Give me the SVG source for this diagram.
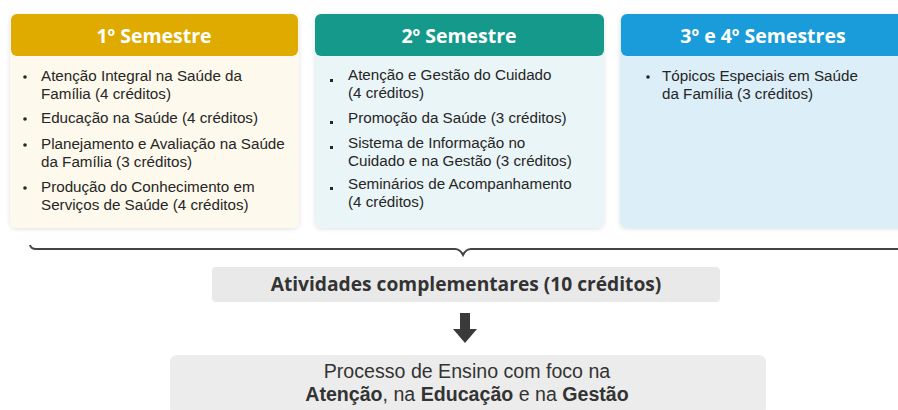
<svg xmlns="http://www.w3.org/2000/svg" width="898" height="410" viewBox="0 0 898 410">
<defs>
<filter id="sh" x="-5%" y="-5%" width="110%" height="115%">
<feDropShadow dx="0" dy="1" stdDeviation="2" flood-color="#000" flood-opacity="0.12"/>
</filter>
</defs>
<style>
.hd{font-family:"Open Sans","Noto Sans","Liberation Sans",sans-serif;font-weight:700;font-size:19.5px;fill:#fff;text-anchor:middle}
.it{font-family:"Liberation Sans","Arial",sans-serif;font-size:15.2px;fill:#262626}
.bl{fill:#262626}
.ac{font-family:"Open Sans","Noto Sans","Liberation Sans",sans-serif;font-weight:700;font-size:19.2px;fill:#333;text-anchor:middle}
.pr{font-family:"Liberation Sans","Arial",sans-serif;font-size:19.6px;fill:#333;text-anchor:middle}
.pr tspan.b{font-weight:700}
</style>
<rect width="898" height="410" fill="#fff"/>
<g id="sem1">
<rect x="10" y="14" width="289" height="214" rx="6" fill="#FDF9EC" filter="url(#sh)"/>
<rect x="11" y="14" width="287" height="42" rx="6" fill="#E0AB00"/>
<text class="hd" x="154" y="43">1º Semestre</text>
<circle class="bl" cx="25" cy="77" r="1.8"/>
<text class="it" x="41" y="81">Atenção Integral na Saúde da</text>
<text class="it" x="41" y="99">Família (4 créditos)</text>
<circle class="bl" cx="25" cy="119" r="1.8"/>
<text class="it" x="41" y="123">Educação na Saúde (4 créditos)</text>
<circle class="bl" cx="25" cy="145" r="1.8"/>
<text class="it" x="41" y="149">Planejamento e Avaliação na Saúde</text>
<text class="it" x="41" y="167">da Família (3 créditos)</text>
<circle class="bl" cx="25" cy="188" r="1.8"/>
<text class="it" x="41" y="192">Produção do Conhecimento em</text>
<text class="it" x="41" y="210">Serviços de Saúde (4 créditos)</text>
</g>
<g id="sem2">
<rect x="315" y="14" width="289" height="214" rx="6" fill="#EAF5F7" filter="url(#sh)"/>
<rect x="315" y="14" width="289" height="42" rx="6" fill="#15998A"/>
<text class="hd" x="459" y="43">2º Semestre</text>
<rect class="bl" x="330" y="79" width="3" height="3"/>
<text class="it" x="348" y="80">Atenção e Gestão do Cuidado</text>
<text class="it" x="348" y="97.5">(4 créditos)</text>
<rect class="bl" x="330" y="121" width="3" height="3"/>
<text class="it" x="348" y="123">Promoção da Saúde (3 créditos)</text>
<rect class="bl" x="330" y="146" width="3" height="3"/>
<text class="it" x="348" y="148">Sistema de Informação no</text>
<text class="it" x="348" y="165.5">Cuidado e na Gestão (3 créditos)</text>
<rect class="bl" x="330" y="187" width="3" height="3"/>
<text class="it" x="348" y="189">Seminários de Acompanhamento</text>
<text class="it" x="348" y="206.5">(4 créditos)</text>
</g>
<g id="sem3">
<rect x="620" y="14" width="290" height="214" rx="6" fill="#DCEEF8" filter="url(#sh)"/>
<rect x="621" y="14" width="290" height="42" rx="6" fill="#1A9CDA"/>
<text class="hd" x="763" y="43">3º e 4º Semestres</text>
<circle class="bl" cx="648" cy="77" r="1.8"/>
<text class="it" x="662" y="81">Tópicos Especiais em Saúde</text>
<text class="it" x="662" y="99">da Família (3 créditos)</text>
</g>
<g id="connectors">
<path d="M30,245 Q31,249 36,249 L455,249 Q460,249 463,255 Q466,249 471,249 L898,249" fill="none" stroke="#444" stroke-width="2"/>
<polygon points="460,313 470,313 470,329 477,329 465,343 453,329 460,329" fill="#3a3a3a"/>
</g>
<g id="atividades">
<rect x="212" y="267" width="508" height="35" rx="4" fill="#E9E9E9"/>
<text class="ac" x="466" y="291">Atividades complementares (10 créditos)</text>
</g>
<g id="processo">
<rect x="170" y="355" width="596" height="60" rx="7" fill="#ECECEC"/>
<text class="pr" x="467" y="378">Processo de Ensino com foco na</text>
<text class="pr" x="467" y="401"><tspan class="b">Atenção</tspan>, na <tspan class="b">Educação</tspan> e na <tspan class="b">Gestão</tspan></text>
</g>
</svg>
